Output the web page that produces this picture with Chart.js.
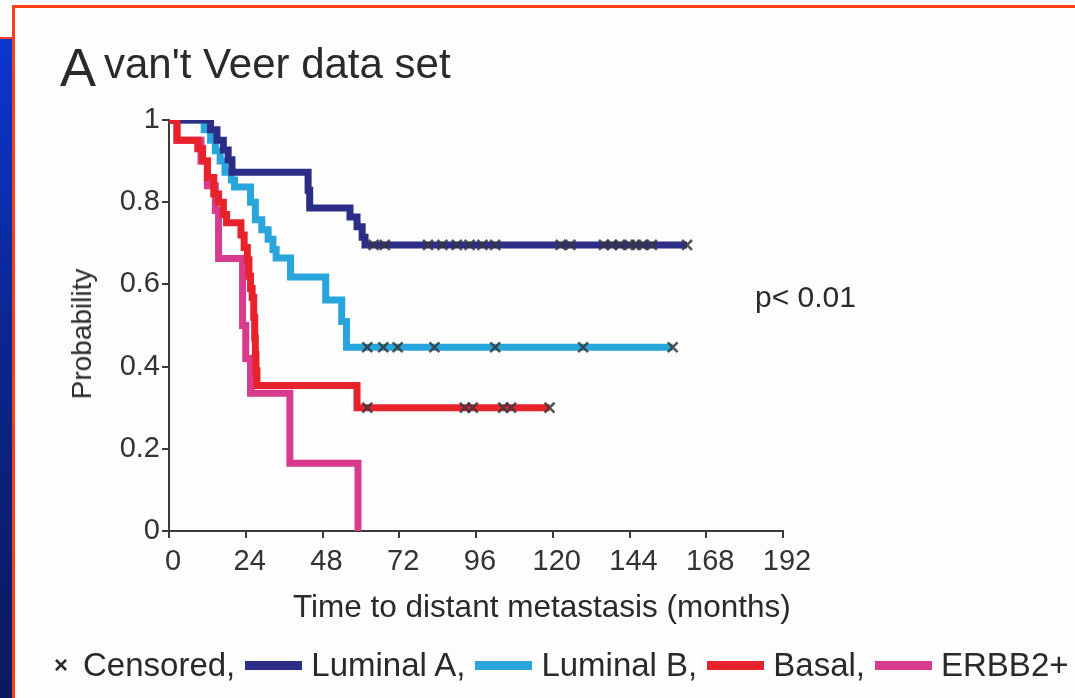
<!DOCTYPE html>
<html><head><meta charset="utf-8">
<script src="https://cdn.jsdelivr.net/npm/chart.js@4.4.1/dist/chart.umd.min.js"></script>
<style>
html,body{margin:0;padding:0;background:#fdfdfd;width:1075px;height:698px;overflow:hidden;font-family:"Liberation Sans",Arial,sans-serif;color:#2a2a2a}
#c{position:absolute;left:0;top:0}
.abs{position:absolute;white-space:nowrap}
.ftop{left:12px;top:5px;width:1063px;height:3px;background:#ff3d17}
.fleft{left:12px;top:5px;width:3px;height:693px;background:#ff3d17}
.fmid{left:0;top:37px;width:14px;height:2px;background:#ff3d17}
.blue{left:0;top:39px;width:12px;height:659px;background:linear-gradient(#0b37d2,#0a2690 45%,#0a1a5c)}
#legend{position:absolute;left:54px;top:646px;height:38px;display:flex;align-items:center;font-size:33px;line-height:38px;white-space:nowrap}
#legend .sw{display:inline-block;width:57px;height:9px;margin:0 9px 0 10px}
#legend .x{font-size:24px;font-weight:bold;margin-right:15px}
</style>
</head><body>
<div class="abs blue"></div>
<div class="abs fmid"></div>
<div class="abs ftop"></div>
<div class="abs fleft"></div>
<canvas id="c" width="1075" height="698"></canvas>
<div class="abs" style="left:60px;top:36px;font-size:54px;line-height:62px">A</div>
<div class="abs" style="left:104px;top:39px;font-size:42px;line-height:50px">van't Veer data set</div>
<div class="abs" style="left:755px;top:280px;font-size:30px;line-height:34px">p&lt; 0.01</div>
<div class="abs" style="left:293px;top:587px;font-size:31.5px;line-height:38px">Time to distant metastasis (months)</div>
<div class="abs" style="left:82px;top:334px;font-size:28px;line-height:32px;transform:translate(-50%,-50%) rotate(-90deg)">Probability</div>
<div id="legend"></div>
<script>
// ---- data (months, survival probability) ----
const xTicks = [0, 24, 48, 72, 96, 120, 144, 168, 192];
const yTicks = [0, 0.2, 0.4, 0.6, 0.8, 1];

const lumA_t = [0, 13, 15, 17, 18.5, 19.7, 43.5, 44, 56.6, 58.8, 60.4, 61.3, 162];
const lumA_s = [1, 0.976, 0.951, 0.927, 0.903, 0.873, 0.829, 0.786, 0.764, 0.74, 0.715, 0.696, 0.696];
const lumA_cens = [64, 67.5, 81, 85.5, 90, 94, 98, 102, 122.5, 125.5, 136, 138.5, 141, 144, 146, 148, 151, 162];

const lumB_t = [0, 11, 13, 14.5, 16, 17.5, 19.5, 20.5, 25.5, 27, 29, 31, 32.5, 33.5, 38, 49, 54, 55.5, 157.5];
const lumB_s = [1, 0.976, 0.951, 0.925, 0.9, 0.873, 0.854, 0.837, 0.8, 0.757, 0.733, 0.71, 0.685, 0.664, 0.618, 0.562, 0.51, 0.447, 0.447];
const lumB_cens = [62, 67, 71.5, 83, 102, 129.5, 157.5];

const basal_t = [0, 2.5, 9, 10.5, 12, 14, 15.5, 17, 18, 22.5, 23.5, 24.5, 25, 25.5, 26, 26.5, 26.8, 27, 27.2, 27.5, 58.8, 119];
const basal_s = [1, 0.951, 0.93, 0.9, 0.86, 0.82, 0.8, 0.77, 0.75, 0.72, 0.69, 0.66, 0.62, 0.59, 0.568, 0.52, 0.47, 0.43, 0.39, 0.354, 0.3, 0.3];
const basal_cens = [62, 92.5, 95, 104.5, 107, 119];

const erbb2_t = [0, 2.5, 10, 12, 14.5, 15.5, 23, 24, 25.5, 37.8, 59.1];
const erbb2_s = [1, 0.951, 0.9, 0.84, 0.78, 0.663, 0.5, 0.42, 0.335, 0.165, 0];

const groupNames = ['Luminal A', 'Luminal B', 'Basal', 'ERBB2+'];
const groupColors = ['#2b2d86', '#28a6dc', '#e8222b', '#d83a8e'];

// ---- helpers ----
const pts = (t, s) => t.map((v, i) => ({x: v, y: s[i]}));
const at = (t, s, x) => { let v = s[0]; for (let i = 0; i < t.length; i++) if (t[i] <= x) v = s[i]; return v; };
const cens = (c, t, s) => c.map(x => ({x, y: at(t, s, x)}));

const line = (label, data, color) => ({type: 'line', label, data, borderColor: color, backgroundColor: color,
  borderWidth: 7, stepped: 'before', pointRadius: 0, fill: false, borderJoinStyle: 'miter', borderCapStyle: 'butt'});
const cross = (label, data) => ({type: 'scatter', label, data, pointStyle: 'crossRot', pointRadius: 7,
  pointBorderWidth: 2.5, borderColor: 'rgba(55,55,60,0.85)', backgroundColor: 'rgba(55,55,60,0.85)', showLine: false});

// legend (HTML)
const lg = document.getElementById('legend');
lg.innerHTML = '<span class="x">×</span><span>Censored,</span>' +
  groupNames.map((n, i) => '<span class="sw" style="background:' + groupColors[i] + '"></span><span>' + n + (i < groupNames.length - 1 ? ',' : '') + '</span>').join('');

new Chart(document.getElementById('c'), {
  data: {datasets: [
    cross('Censored A', cens(lumA_cens, lumA_t, lumA_s)),
    cross('Censored B', cens(lumB_cens, lumB_t, lumB_s)),
    cross('Censored Basal', cens(basal_cens, basal_t, basal_s)),
    line(groupNames[2], pts(basal_t, basal_s), groupColors[2]),
    line(groupNames[0], pts(lumA_t, lumA_s), groupColors[0]),
    line(groupNames[1], pts(lumB_t, lumB_s), groupColors[1]),
    line(groupNames[3], pts(erbb2_t, erbb2_s), groupColors[3])
  ]},
  options: {
    responsive: false, animation: false, devicePixelRatio: 1,
    layout: {padding: {left: 0, top: 120, right: 292, bottom: 0}},
    plugins: {legend: {display: false}, tooltip: {enabled: false}, title: {display: false}},
    scales: {
      x: {type: 'linear', min: 0, max: 192, position: 'bottom',
        afterBuildTicks: s => { s.ticks = xTicks.map(v => ({value: v})); },
        afterFit: s => { s.height = 167; },
        ticks: {font: {family: 'Liberation Sans, Arial, sans-serif', size: 29}, color: '#333', padding: 7, maxRotation: 0,
          labelOffset: 4, callback: v => String(v)},
        grid: {display: true, drawOnChartArea: false, drawTicks: true, tickLength: 7, color: '#3a3a3a', lineWidth: 2},
        border: {display: true, color: '#3a3a3a', width: 2}},
      y: {type: 'linear', min: 0, max: 1, position: 'left',
        afterBuildTicks: s => { s.ticks = yTicks.map(v => ({value: v})); },
        afterFit: s => { s.width = 169; },
        ticks: {font: {family: 'Liberation Sans, Arial, sans-serif', size: 29}, color: '#333', padding: 2,
          callback: v => String(v)},
        grid: {display: true, drawOnChartArea: false, drawTicks: true, tickLength: 7, color: '#3a3a3a', lineWidth: 2},
        border: {display: true, color: '#3a3a3a', width: 2}}
    }
  }
});
</script>
</body></html>
